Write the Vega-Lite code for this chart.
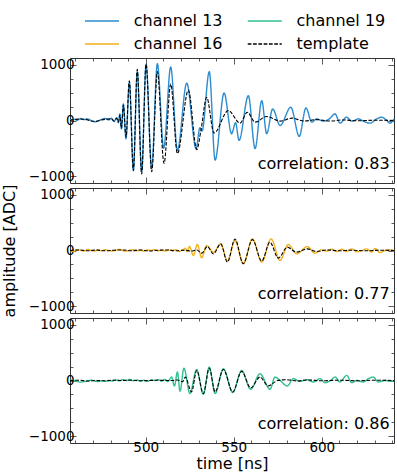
{
"$schema": "https://vega.github.io/schema/vega-lite/v6.json",
"padding": {"left": 1, "top": 13, "right": 3, "bottom": 3},
"bounds": "flush",
"spacing": 5,
"config": {
  "font": "DejaVu Sans",
  "view": {"stroke": "#333", "strokeWidth": 1},
  "axis": {"domain": false, "grid": false, "labelFontSize": 13.5, "titleFontSize": 16, "labelColor": "#000", "titleColor": "#000", "tickColor": "#333", "tickWidth": 0.8, "titleFontWeight": "normal", "labelOverlap": false, "format": "d"},
  "legend": {"labelFontSize": 16, "labelColor": "#000"}
},
"resolve": {"scale": {"color": "shared", "strokeDash": "shared"}, "legend": {"color": "shared", "strokeDash": "shared"}},
"datasets": {"d": [
{"p":1,"s":"channel 13","t":457,"v":10},{"p":1,"s":"channel 13","t":459,"v":25},{"p":1,"s":"channel 13","t":461,"v":5},{"p":1,"s":"channel 13","t":463,"v":35},{"p":1,"s":"channel 13","t":465,"v":15},{"p":1,"s":"channel 13","t":467,"v":30},{"p":1,"s":"channel 13","t":469,"v":0},{"p":1,"s":"channel 13","t":471,"v":-25},{"p":1,"s":"channel 13","t":473,"v":-5},{"p":1,"s":"channel 13","t":475,"v":20},{"p":1,"s":"channel 13","t":477,"v":35},{"p":1,"s":"channel 13","t":479,"v":10},{"p":1,"s":"channel 13","t":480.5,"v":40},{"p":1,"s":"channel 13","t":482,"v":-20},{"p":1,"s":"channel 13","t":483.5,"v":50},{"p":1,"s":"channel 13","t":484.5,"v":-40},{"p":1,"s":"channel 13","t":485.3,"v":120},{"p":1,"s":"channel 13","t":486.2,"v":-150},{"p":1,"s":"channel 13","t":487.3,"v":300},{"p":1,"s":"channel 13","t":488.8,"v":-330},{"p":1,"s":"channel 13","t":490.7,"v":684},{"p":1,"s":"channel 13","t":493,"v":-893},{"p":1,"s":"channel 13","t":495.2,"v":880},{"p":1,"s":"channel 13","t":497.7,"v":-922},{"p":1,"s":"channel 13","t":500.2,"v":1012},{"p":1,"s":"channel 13","t":503.4,"v":-863},{"p":1,"s":"channel 13","t":506.6,"v":1023},{"p":1,"s":"channel 13","t":510.2,"v":-500},{"p":1,"s":"channel 13","t":514.2,"v":964},{"p":1,"s":"channel 13","t":518,"v":-536},{"p":1,"s":"channel 13","t":523.3,"v":672},{"p":1,"s":"channel 13","t":528.6,"v":-506},{"p":1,"s":"channel 13","t":530.8,"v":-130},{"p":1,"s":"channel 13","t":532,"v":-190},{"p":1,"s":"channel 13","t":536.1,"v":880},{"p":1,"s":"channel 13","t":539.4,"v":-714},{"p":1,"s":"channel 13","t":544.5,"v":494},{"p":1,"s":"channel 13","t":548.8,"v":-238},{"p":1,"s":"channel 13","t":551,"v":-40},{"p":1,"s":"channel 13","t":553,"v":-357},{"p":1,"s":"channel 13","t":558.3,"v":446},{"p":1,"s":"channel 13","t":562.1,"v":-506},{"p":1,"s":"channel 13","t":565.9,"v":357},{"p":1,"s":"channel 13","t":568.7,"v":-238},{"p":1,"s":"channel 13","t":572.1,"v":208},{"p":1,"s":"channel 13","t":576.3,"v":-89},{"p":1,"s":"channel 13","t":582.4,"v":238},{"p":1,"s":"channel 13","t":587.2,"v":-286},{"p":1,"s":"channel 13","t":591,"v":226},{"p":1,"s":"channel 13","t":594.3,"v":-30},{"p":1,"s":"channel 13","t":597.1,"v":30},{"p":1,"s":"channel 13","t":600.9,"v":-12},{"p":1,"s":"channel 13","t":604.3,"v":30},{"p":1,"s":"channel 13","t":607.5,"v":119},{"p":1,"s":"channel 13","t":610.3,"v":-48},{"p":1,"s":"channel 13","t":614.1,"v":60},{"p":1,"s":"channel 13","t":617,"v":-12},{"p":1,"s":"channel 13","t":620.8,"v":30},{"p":1,"s":"channel 13","t":623.6,"v":-12},{"p":1,"s":"channel 13","t":627.4,"v":-48},{"p":1,"s":"channel 13","t":631.2,"v":30},{"p":1,"s":"channel 13","t":634,"v":60},{"p":1,"s":"channel 13","t":636.9,"v":0},{"p":1,"s":"channel 13","t":638.7,"v":-48},{"p":1,"s":"channel 13","t":641,"v":30},
{"p":1,"s":"template","t":457,"v":0},{"p":1,"s":"template","t":460,"v":20},{"p":1,"s":"template","t":463,"v":25},{"p":1,"s":"template","t":466,"v":20},{"p":1,"s":"template","t":469,"v":-10},{"p":1,"s":"template","t":472,"v":-15},{"p":1,"s":"template","t":475,"v":10},{"p":1,"s":"template","t":478,"v":25},{"p":1,"s":"template","t":480.5,"v":30},{"p":1,"s":"template","t":482,"v":-10},{"p":1,"s":"template","t":483.5,"v":40},{"p":1,"s":"template","t":484.5,"v":-30},{"p":1,"s":"template","t":485.3,"v":100},{"p":1,"s":"template","t":486.2,"v":-140},{"p":1,"s":"template","t":487.3,"v":280},{"p":1,"s":"template","t":488.8,"v":-300},{"p":1,"s":"template","t":490.7,"v":714},{"p":1,"s":"template","t":493,"v":-904},{"p":1,"s":"template","t":495.2,"v":922},{"p":1,"s":"template","t":497.7,"v":-964},{"p":1,"s":"template","t":500.2,"v":1012},{"p":1,"s":"template","t":503.4,"v":-922},{"p":1,"s":"template","t":506.6,"v":880},{"p":1,"s":"template","t":510.4,"v":-774},{"p":1,"s":"template","t":514.2,"v":655},{"p":1,"s":"template","t":518,"v":-595},{"p":1,"s":"template","t":524.2,"v":547},{"p":1,"s":"template","t":529,"v":-524},{"p":1,"s":"template","t":531.5,"v":-150},{"p":1,"s":"template","t":534.6,"v":417},{"p":1,"s":"template","t":538.8,"v":-226},{"p":1,"s":"template","t":546.9,"v":179},{"p":1,"s":"template","t":553.6,"v":-48},{"p":1,"s":"template","t":557.7,"v":149},{"p":1,"s":"template","t":562.1,"v":-30},{"p":1,"s":"template","t":568.7,"v":71},{"p":1,"s":"template","t":576.3,"v":-12},{"p":1,"s":"template","t":583,"v":42},{"p":1,"s":"template","t":590,"v":-10},{"p":1,"s":"template","t":597,"v":15},{"p":1,"s":"template","t":605,"v":-10},{"p":1,"s":"template","t":612,"v":10},{"p":1,"s":"template","t":620,"v":-5},{"p":1,"s":"template","t":630,"v":5},{"p":1,"s":"template","t":641,"v":0},
{"p":2,"s":"channel 16","t":457,"v":0},{"p":2,"s":"channel 16","t":459,"v":-15},{"p":2,"s":"channel 16","t":461,"v":10},{"p":2,"s":"channel 16","t":463,"v":5},{"p":2,"s":"channel 16","t":465,"v":-10},{"p":2,"s":"channel 16","t":467,"v":20},{"p":2,"s":"channel 16","t":469,"v":0},{"p":2,"s":"channel 16","t":471,"v":-10},{"p":2,"s":"channel 16","t":473,"v":10},{"p":2,"s":"channel 16","t":475,"v":-5},{"p":2,"s":"channel 16","t":477,"v":15},{"p":2,"s":"channel 16","t":479,"v":0},{"p":2,"s":"channel 16","t":481,"v":-10},{"p":2,"s":"channel 16","t":483,"v":5},{"p":2,"s":"channel 16","t":485,"v":20},{"p":2,"s":"channel 16","t":487,"v":0},{"p":2,"s":"channel 16","t":489,"v":-10},{"p":2,"s":"channel 16","t":491,"v":5},{"p":2,"s":"channel 16","t":493,"v":15},{"p":2,"s":"channel 16","t":495,"v":-5},{"p":2,"s":"channel 16","t":497,"v":5},{"p":2,"s":"channel 16","t":499,"v":-10},{"p":2,"s":"channel 16","t":501,"v":10},{"p":2,"s":"channel 16","t":503,"v":0},{"p":2,"s":"channel 16","t":505,"v":15},{"p":2,"s":"channel 16","t":507,"v":-5},{"p":2,"s":"channel 16","t":509,"v":5},{"p":2,"s":"channel 16","t":511,"v":-10},{"p":2,"s":"channel 16","t":513,"v":10},{"p":2,"s":"channel 16","t":515,"v":0},{"p":2,"s":"channel 16","t":517,"v":15},{"p":2,"s":"channel 16","t":519,"v":-20},{"p":2,"s":"channel 16","t":521,"v":10},{"p":2,"s":"channel 16","t":522.5,"v":40},{"p":2,"s":"channel 16","t":523.5,"v":-20},{"p":2,"s":"channel 16","t":524.8,"v":71},{"p":2,"s":"channel 16","t":527.1,"v":-89},{"p":2,"s":"channel 16","t":529.3,"v":107},{"p":2,"s":"channel 16","t":531.8,"v":-131},{"p":2,"s":"channel 16","t":534.6,"v":89},{"p":2,"s":"channel 16","t":538.4,"v":-30},{"p":2,"s":"channel 16","t":542.6,"v":119},{"p":2,"s":"channel 16","t":546.4,"v":-190},{"p":2,"s":"channel 16","t":550.7,"v":179},{"p":2,"s":"channel 16","t":555.4,"v":-238},{"p":2,"s":"channel 16","t":560.6,"v":208},{"p":2,"s":"channel 16","t":565.9,"v":-208},{"p":2,"s":"channel 16","t":571.2,"v":208},{"p":2,"s":"channel 16","t":576.3,"v":-179},{"p":2,"s":"channel 16","t":581,"v":107},{"p":2,"s":"channel 16","t":585.7,"v":-60},{"p":2,"s":"channel 16","t":591.8,"v":71},{"p":2,"s":"channel 16","t":596.1,"v":-48},{"p":2,"s":"channel 16","t":599.9,"v":12},{"p":2,"s":"channel 16","t":602.8,"v":-12},{"p":2,"s":"channel 16","t":605.6,"v":24},{"p":2,"s":"channel 16","t":608.5,"v":-18},{"p":2,"s":"channel 16","t":611.3,"v":24},{"p":2,"s":"channel 16","t":614.1,"v":-18},{"p":2,"s":"channel 16","t":617,"v":30},{"p":2,"s":"channel 16","t":619.8,"v":-24},{"p":2,"s":"channel 16","t":622.7,"v":0},{"p":2,"s":"channel 16","t":625.5,"v":30},{"p":2,"s":"channel 16","t":628.3,"v":-30},{"p":2,"s":"channel 16","t":630.2,"v":36},{"p":2,"s":"channel 16","t":633,"v":-36},{"p":2,"s":"channel 16","t":635.9,"v":0},{"p":2,"s":"channel 16","t":638.7,"v":12},{"p":2,"s":"channel 16","t":641,"v":-12},
{"p":2,"s":"template","t":457,"v":0},{"p":2,"s":"template","t":462,"v":10},{"p":2,"s":"template","t":467,"v":-5},{"p":2,"s":"template","t":472,"v":8},{"p":2,"s":"template","t":477,"v":-5},{"p":2,"s":"template","t":482,"v":5},{"p":2,"s":"template","t":487,"v":10},{"p":2,"s":"template","t":492,"v":-5},{"p":2,"s":"template","t":497,"v":8},{"p":2,"s":"template","t":502,"v":-8},{"p":2,"s":"template","t":507,"v":5},{"p":2,"s":"template","t":512,"v":10},{"p":2,"s":"template","t":517,"v":-5},{"p":2,"s":"template","t":522,"v":5},{"p":2,"s":"template","t":526,"v":-10},{"p":2,"s":"template","t":529,"v":10},{"p":2,"s":"template","t":531.8,"v":-48},{"p":2,"s":"template","t":535,"v":71},{"p":2,"s":"template","t":538.4,"v":-60},{"p":2,"s":"template","t":542.6,"v":119},{"p":2,"s":"template","t":546.4,"v":-208},{"p":2,"s":"template","t":550.7,"v":208},{"p":2,"s":"template","t":555.4,"v":-238},{"p":2,"s":"template","t":560.6,"v":196},{"p":2,"s":"template","t":565.9,"v":-190},{"p":2,"s":"template","t":570.5,"v":149},{"p":2,"s":"template","t":575.3,"v":-137},{"p":2,"s":"template","t":580.4,"v":60},{"p":2,"s":"template","t":585.7,"v":-30},{"p":2,"s":"template","t":591.8,"v":30},{"p":2,"s":"template","t":597,"v":-18},{"p":2,"s":"template","t":603,"v":10},{"p":2,"s":"template","t":610,"v":-5},{"p":2,"s":"template","t":617,"v":5},{"p":2,"s":"template","t":625,"v":-5},{"p":2,"s":"template","t":633,"v":5},{"p":2,"s":"template","t":641,"v":0},
{"p":3,"s":"channel 19","t":457,"v":10},{"p":3,"s":"channel 19","t":459,"v":0},{"p":3,"s":"channel 19","t":461,"v":-15},{"p":3,"s":"channel 19","t":463,"v":-30},{"p":3,"s":"channel 19","t":465,"v":-20},{"p":3,"s":"channel 19","t":467,"v":-10},{"p":3,"s":"channel 19","t":469,"v":5},{"p":3,"s":"channel 19","t":471,"v":-10},{"p":3,"s":"channel 19","t":473,"v":-20},{"p":3,"s":"channel 19","t":475,"v":-5},{"p":3,"s":"channel 19","t":477,"v":-15},{"p":3,"s":"channel 19","t":479,"v":0},{"p":3,"s":"channel 19","t":481,"v":-10},{"p":3,"s":"channel 19","t":483,"v":10},{"p":3,"s":"channel 19","t":485,"v":-5},{"p":3,"s":"channel 19","t":487,"v":15},{"p":3,"s":"channel 19","t":489,"v":0},{"p":3,"s":"channel 19","t":491,"v":20},{"p":3,"s":"channel 19","t":493,"v":-5},{"p":3,"s":"channel 19","t":495,"v":10},{"p":3,"s":"channel 19","t":497,"v":-10},{"p":3,"s":"channel 19","t":499,"v":5},{"p":3,"s":"channel 19","t":501,"v":-15},{"p":3,"s":"channel 19","t":503,"v":10},{"p":3,"s":"channel 19","t":505,"v":0},{"p":3,"s":"channel 19","t":507,"v":15},{"p":3,"s":"channel 19","t":509,"v":-10},{"p":3,"s":"channel 19","t":511,"v":20},{"p":3,"s":"channel 19","t":512.5,"v":-20},{"p":3,"s":"channel 19","t":514.7,"v":62},{"p":3,"s":"channel 19","t":516.3,"v":-98},{"p":3,"s":"channel 19","t":518,"v":152},{"p":3,"s":"channel 19","t":519.5,"v":-193},{"p":3,"s":"channel 19","t":521.7,"v":223},{"p":3,"s":"channel 19","t":525.1,"v":-235},{"p":3,"s":"channel 19","t":528.9,"v":199},{"p":3,"s":"channel 19","t":532.7,"v":-247},{"p":3,"s":"channel 19","t":536.1,"v":241},{"p":3,"s":"channel 19","t":539.4,"v":-235},{"p":3,"s":"channel 19","t":544.1,"v":211},{"p":3,"s":"channel 19","t":549.4,"v":-217},{"p":3,"s":"channel 19","t":554.5,"v":181},{"p":3,"s":"channel 19","t":559.6,"v":-158},{"p":3,"s":"channel 19","t":564.9,"v":122},{"p":3,"s":"channel 19","t":570.6,"v":-158},{"p":3,"s":"channel 19","t":573.4,"v":62},{"p":3,"s":"channel 19","t":576.3,"v":0},{"p":3,"s":"channel 19","t":580.4,"v":-98},{"p":3,"s":"channel 19","t":583.8,"v":33},{"p":3,"s":"channel 19","t":587.6,"v":-15},{"p":3,"s":"channel 19","t":591.4,"v":15},{"p":3,"s":"channel 19","t":595.2,"v":-27},{"p":3,"s":"channel 19","t":599,"v":33},{"p":3,"s":"channel 19","t":601.8,"v":-39},{"p":3,"s":"channel 19","t":605,"v":0},{"p":3,"s":"channel 19","t":607.5,"v":62},{"p":3,"s":"channel 19","t":610.3,"v":-27},{"p":3,"s":"channel 19","t":614.1,"v":92},{"p":3,"s":"channel 19","t":617,"v":-39},{"p":3,"s":"channel 19","t":619.8,"v":0},{"p":3,"s":"channel 19","t":623.6,"v":-27},{"p":3,"s":"channel 19","t":626.4,"v":33},{"p":3,"s":"channel 19","t":629.3,"v":62},{"p":3,"s":"channel 19","t":632.1,"v":-27},{"p":3,"s":"channel 19","t":635.9,"v":0},{"p":3,"s":"channel 19","t":638.7,"v":-15},{"p":3,"s":"channel 19","t":641,"v":0},
{"p":3,"s":"template","t":457,"v":0},{"p":3,"s":"template","t":462,"v":5},{"p":3,"s":"template","t":467,"v":-10},{"p":3,"s":"template","t":472,"v":0},{"p":3,"s":"template","t":477,"v":-5},{"p":3,"s":"template","t":482,"v":5},{"p":3,"s":"template","t":487,"v":0},{"p":3,"s":"template","t":492,"v":5},{"p":3,"s":"template","t":497,"v":-5},{"p":3,"s":"template","t":502,"v":0},{"p":3,"s":"template","t":507,"v":5},{"p":3,"s":"template","t":512,"v":0},{"p":3,"s":"template","t":515,"v":0},{"p":3,"s":"template","t":518,"v":10},{"p":3,"s":"template","t":521,"v":-20},{"p":3,"s":"template","t":522.5,"v":60},{"p":3,"s":"template","t":526,"v":-205},{"p":3,"s":"template","t":529,"v":181},{"p":3,"s":"template","t":532.7,"v":-235},{"p":3,"s":"template","t":536.1,"v":223},{"p":3,"s":"template","t":539.4,"v":-205},{"p":3,"s":"template","t":544.1,"v":199},{"p":3,"s":"template","t":549.4,"v":-205},{"p":3,"s":"template","t":554.5,"v":164},{"p":3,"s":"template","t":559.6,"v":-134},{"p":3,"s":"template","t":564.9,"v":62},{"p":3,"s":"template","t":569.5,"v":-98},{"p":3,"s":"template","t":575,"v":0},{"p":3,"s":"template","t":580,"v":15},{"p":3,"s":"template","t":586,"v":-8},{"p":3,"s":"template","t":592,"v":10},{"p":3,"s":"template","t":600,"v":-5},{"p":3,"s":"template","t":610,"v":5},{"p":3,"s":"template","t":620,"v":-5},{"p":3,"s":"template","t":630,"v":5},{"p":3,"s":"template","t":641,"v":0}
]},
"vconcat": [
{
 "width": 324, "height": 125,
 "data": {"name": "d"},
 "transform": [{"filter": "datum.p === 1"}],
 "layer": [
  {"transform": [{"filter": "datum.s !== 'template'"}],
   "mark": {"type": "line", "interpolate": "monotone", "strokeWidth": 1.4},
   "encoding": {
    "x": {"field": "t", "type": "quantitative", "scale": {"domain": [457, 641], "nice": false, "zero": false}, "axis": {"orient": "bottom", "values": [460,470,480,490,500,510,520,530,540,550,560,570,580,590,600,610,620,630,640], "labels": false, "title": null, "tickSize": {"condition": {"test": "datum.value % 50 === 0", "value": -6}, "value": -3}}},
    "y": {"field": "v", "type": "quantitative", "scale": {"domain": [-1125, 1125], "nice": false}, "axis": {"orient": "left", "values": [-1000,-750,-500,-250,0,250,500,750,1000], "labelExpr": "datum.value % 1000 === 0 ? datum.label : ''", "title": null, "labelPadding": 2, "tickSize": {"condition": {"test": "datum.value % 1000 === 0", "value": -6}, "value": -3}}},
    "color": {"field": "s", "type": "nominal", "scale": {"domain": ["channel 13", "channel 19", "channel 16", "template"], "range": ["#2b8cd0", "#30c090", "#f2b01e", "#000000"]}, "legend": {"title": null, "values": ["channel 13", "channel 19", "channel 16", "template"], "orient": "none", "direction": "horizontal", "legendX": 24, "legendY": -45, "columns": 2, "symbolType": "M-4,0H4", "symbolSize": 72.25, "symbolStrokeWidth": 1.5, "columnPadding": 21.75, "rowPadding": 7, "labelOffset": 23.75, "labelFontSize": 16}},
    "strokeDash": {"field": "s", "type": "nominal", "scale": {"domain": ["channel 13", "channel 19", "channel 16", "template"], "range": [[1,0],[1,0],[1,0],[3.7,1.6]]}, "legend": {"title": null, "values": ["channel 13", "channel 19", "channel 16", "template"]}}
   }},
  {"transform": [{"filter": "datum.s === 'template'"}],
   "mark": {"type": "line", "interpolate": "monotone", "strokeWidth": 1.1},
   "encoding": {
    "x": {"field": "t", "type": "quantitative", "axis": {"orient": "top", "values": [460,470,480,490,500,510,520,530,540,550,560,570,580,590,600,610,620,630,640], "labels": false, "title": null, "tickSize": {"condition": {"test": "datum.value % 50 === 0", "value": -6}, "value": -3}}},
    "y": {"field": "v", "type": "quantitative", "axis": {"orient": "right", "values": [-1000,-750,-500,-250,0,250,500,750,1000], "labels": false, "title": null, "tickSize": {"condition": {"test": "datum.value % 1000 === 0", "value": -6}, "value": -3}}},
    "color": {"field": "s", "type": "nominal", "scale": {"domain": ["channel 13", "channel 19", "channel 16", "template"]}},
    "strokeDash": {"field": "s", "type": "nominal", "scale": {"domain": ["channel 13", "channel 19", "channel 16", "template"]}}
   }},
  {"data": {"values": [{}]},
   "mark": {"type": "text", "align": "right", "baseline": "alphabetic", "fontSize": 16, "font": "DejaVu Sans"},
   "encoding": {"x": {"datum": 638.5, "type": "quantitative", "axis": null}, "y": {"datum": -875, "type": "quantitative", "axis": null}, "text": {"value": "correlation: 0.83"}}}
 ],
 "resolve": {"axis": {"x": "independent", "y": "independent"}}
},
{
 "width": 324, "height": 125,
 "data": {"name": "d"},
 "transform": [{"filter": "datum.p === 2"}],
 "layer": [
  {"transform": [{"filter": "datum.s !== 'template'"}],
   "mark": {"type": "line", "interpolate": "monotone", "strokeWidth": 1.4},
   "encoding": {
    "x": {"field": "t", "type": "quantitative", "scale": {"domain": [457, 641], "nice": false, "zero": false}, "axis": {"orient": "bottom", "values": [460,470,480,490,500,510,520,530,540,550,560,570,580,590,600,610,620,630,640], "labels": false, "title": null, "tickSize": {"condition": {"test": "datum.value % 50 === 0", "value": -6}, "value": -3}}},
    "y": {"field": "v", "type": "quantitative", "scale": {"domain": [-1125, 1125], "nice": false}, "axis": {"orient": "left", "values": [-1000,-750,-500,-250,0,250,500,750,1000], "labelExpr": "datum.value % 1000 === 0 ? datum.label : ''", "title": "amplitude [ADC]", "titlePadding": 10.5, "labelPadding": 2, "tickSize": {"condition": {"test": "datum.value % 1000 === 0", "value": -6}, "value": -3}}},
    "color": {"field": "s", "type": "nominal", "scale": {"domain": ["channel 13", "channel 19", "channel 16", "template"]}},
    "strokeDash": {"field": "s", "type": "nominal", "scale": {"domain": ["channel 13", "channel 19", "channel 16", "template"]}}
   }},
  {"transform": [{"filter": "datum.s === 'template'"}],
   "mark": {"type": "line", "interpolate": "monotone", "strokeWidth": 1.1},
   "encoding": {
    "x": {"field": "t", "type": "quantitative", "axis": {"orient": "top", "values": [460,470,480,490,500,510,520,530,540,550,560,570,580,590,600,610,620,630,640], "labels": false, "title": null, "tickSize": {"condition": {"test": "datum.value % 50 === 0", "value": -6}, "value": -3}}},
    "y": {"field": "v", "type": "quantitative", "axis": {"orient": "right", "values": [-1000,-750,-500,-250,0,250,500,750,1000], "labels": false, "title": null, "tickSize": {"condition": {"test": "datum.value % 1000 === 0", "value": -6}, "value": -3}}},
    "color": {"field": "s", "type": "nominal", "scale": {"domain": ["channel 13", "channel 19", "channel 16", "template"]}},
    "strokeDash": {"field": "s", "type": "nominal", "scale": {"domain": ["channel 13", "channel 19", "channel 16", "template"]}}
   }},
  {"data": {"values": [{}]},
   "mark": {"type": "text", "align": "right", "baseline": "alphabetic", "fontSize": 16, "font": "DejaVu Sans"},
   "encoding": {"x": {"datum": 638.5, "type": "quantitative", "axis": null}, "y": {"datum": -875, "type": "quantitative", "axis": null}, "text": {"value": "correlation: 0.77"}}}
 ],
 "resolve": {"axis": {"x": "independent", "y": "independent"}}
},
{
 "width": 324, "height": 125,
 "data": {"name": "d"},
 "transform": [{"filter": "datum.p === 3"}],
 "layer": [
  {"transform": [{"filter": "datum.s !== 'template'"}],
   "mark": {"type": "line", "interpolate": "monotone", "strokeWidth": 1.4},
   "encoding": {
    "x": {"field": "t", "type": "quantitative", "scale": {"domain": [457, 641], "nice": false, "zero": false}, "axis": {"orient": "bottom", "values": [460,470,480,490,500,510,520,530,540,550,560,570,580,590,600,610,620,630,640], "labelExpr": "datum.value % 50 === 0 ? datum.label : ''", "labelPadding": 3, "title": "time [ns]", "titlePadding": -1, "tickSize": {"condition": {"test": "datum.value % 50 === 0", "value": -6}, "value": -3}}},
    "y": {"field": "v", "type": "quantitative", "scale": {"domain": [-1125, 1125], "nice": false}, "axis": {"orient": "left", "values": [-1000,-750,-500,-250,0,250,500,750,1000], "labelExpr": "datum.value % 1000 === 0 ? datum.label : ''", "title": null, "labelPadding": 2, "tickSize": {"condition": {"test": "datum.value % 1000 === 0", "value": -6}, "value": -3}}},
    "color": {"field": "s", "type": "nominal", "scale": {"domain": ["channel 13", "channel 19", "channel 16", "template"]}},
    "strokeDash": {"field": "s", "type": "nominal", "scale": {"domain": ["channel 13", "channel 19", "channel 16", "template"]}}
   }},
  {"transform": [{"filter": "datum.s === 'template'"}],
   "mark": {"type": "line", "interpolate": "monotone", "strokeWidth": 1.1},
   "encoding": {
    "x": {"field": "t", "type": "quantitative", "axis": {"orient": "top", "values": [460,470,480,490,500,510,520,530,540,550,560,570,580,590,600,610,620,630,640], "labels": false, "title": null, "tickSize": {"condition": {"test": "datum.value % 50 === 0", "value": -6}, "value": -3}}},
    "y": {"field": "v", "type": "quantitative", "axis": {"orient": "right", "values": [-1000,-750,-500,-250,0,250,500,750,1000], "labels": false, "title": null, "tickSize": {"condition": {"test": "datum.value % 1000 === 0", "value": -6}, "value": -3}}},
    "color": {"field": "s", "type": "nominal", "scale": {"domain": ["channel 13", "channel 19", "channel 16", "template"]}},
    "strokeDash": {"field": "s", "type": "nominal", "scale": {"domain": ["channel 13", "channel 19", "channel 16", "template"]}}
   }},
  {"data": {"values": [{}]},
   "mark": {"type": "text", "align": "right", "baseline": "alphabetic", "fontSize": 16, "font": "DejaVu Sans"},
   "encoding": {"x": {"datum": 638.5, "type": "quantitative", "axis": null}, "y": {"datum": -875, "type": "quantitative", "axis": null}, "text": {"value": "correlation: 0.86"}}}
 ],
 "resolve": {"axis": {"x": "independent", "y": "independent"}}
}
]
}
